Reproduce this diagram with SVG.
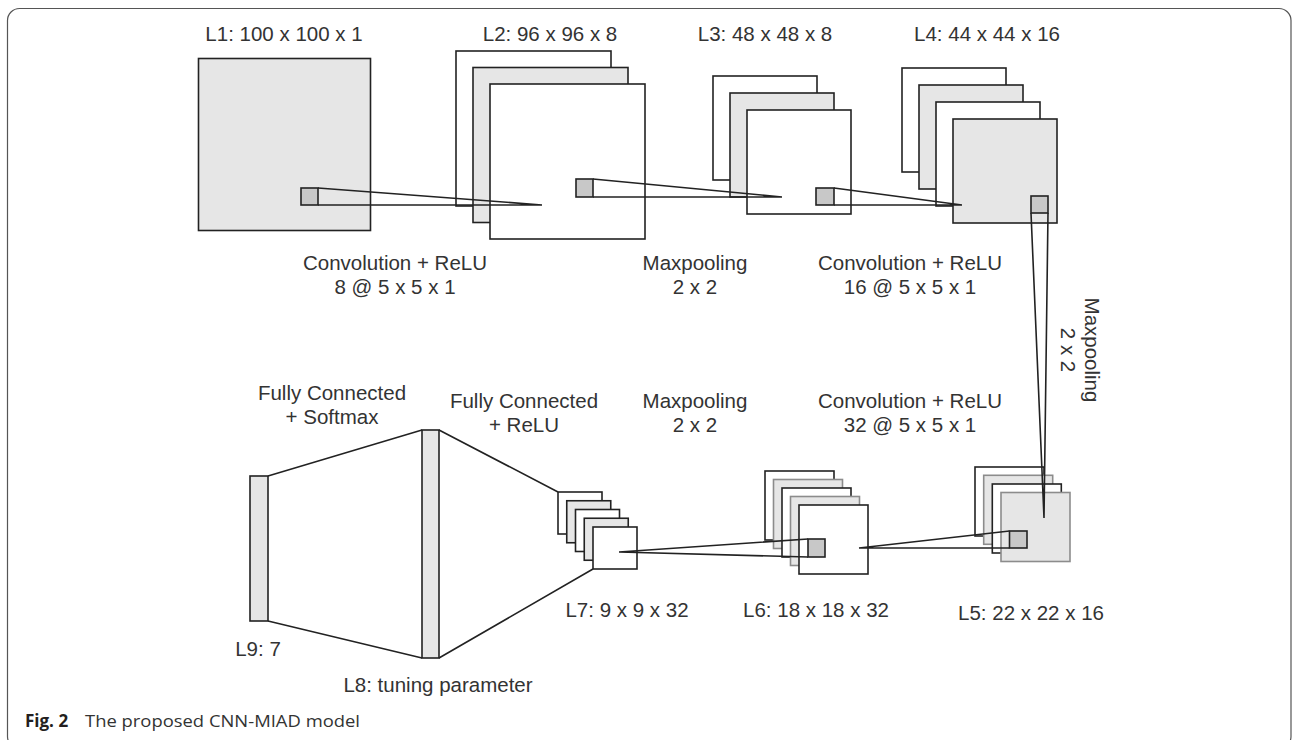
<svg xmlns="http://www.w3.org/2000/svg" width="1293" height="740" viewBox="0 0 1293 740">
<style>
.w{fill:#ffffff;stroke:#222;stroke-width:1.6}
.g{fill:#e6e6e6;stroke:#222;stroke-width:1.6}
.gl{fill:#e6e6e6;stroke:#8c8c8c;stroke-width:1.6}
.s{fill:#c8c8c8;stroke:#222;stroke-width:1.6}
.t{font-family:"Liberation Sans",Arial,sans-serif;font-size:20.5px;fill:#333;text-anchor:middle}
.c{fill:none;stroke:#222;stroke-width:1.6}
</style>
<rect x="7.5" y="8.5" width="1283.5" height="740" rx="12" ry="12" fill="none" stroke="#555" stroke-width="1.2"/>

<g id="L1">
<rect class="g" x="198.5" y="58.5" width="172" height="172"/>
<rect class="s" x="301" y="188" width="17" height="17"/>
<text class="t" x="284" y="41">L1: 100 x 100 x 1</text>
</g>
<g id="L2">
<rect class="w" x="456" y="51" width="155" height="155"/>
<rect class="g" x="473" y="67.5" width="155" height="155"/>
<rect class="w" x="490" y="84" width="155" height="155"/>
<rect class="s" x="576" y="179" width="17" height="18"/>
<text class="t" x="550" y="41">L2: 96 x 96 x 8</text>
</g>
<g id="L3">
<rect class="w" x="713" y="76" width="104" height="104"/>
<rect class="g" x="730" y="93" width="104" height="104"/>
<rect class="w" x="747" y="110" width="104" height="104"/>
<rect class="s" x="816" y="188" width="18" height="17"/>
<text class="t" x="765" y="41">L3: 48 x 48 x 8</text>
</g>
<g id="L4">
<rect class="w" x="902" y="68" width="104" height="104"/>
<rect class="g" x="919" y="85" width="104" height="104"/>
<rect class="w" x="936" y="102" width="104" height="104"/>
<rect class="g" x="953" y="119" width="104" height="104"/>
<rect class="s" x="1031" y="196" width="17" height="17"/>
<text class="t" x="987" y="41">L4: 44 x 44 x 16</text>
</g>
<g id="L5">
<rect class="w" x="975" y="467" width="69" height="69"/>
<rect class="gl" x="983.7" y="475.3" width="69" height="69"/>
<rect class="w" x="992.3" y="484" width="69" height="69"/>
<rect class="gl" x="1001" y="492.5" width="69" height="69"/>
<rect class="s" x="1009.5" y="531" width="17.5" height="17"/>
<text class="t" x="1031" y="620">L5: 22 x 22 x 16</text>
</g>
<g id="L6">
<rect class="w" x="765" y="471" width="69" height="69"/>
<rect class="gl" x="773.5" y="479.5" width="69" height="69"/>
<rect class="w" x="782" y="488" width="69" height="69"/>
<rect class="gl" x="790.5" y="496.5" width="69" height="69"/>
<rect class="w" x="799" y="505" width="69" height="69"/>
<rect class="s" x="808" y="539" width="17" height="18"/>
<text class="t" x="816" y="617">L6: 18 x 18 x 32</text>
</g>
<g id="L7">
<rect class="w" x="558" y="492" width="44" height="42"/>
<rect class="g" x="566.75" y="500.75" width="44" height="42"/>
<rect class="w" x="575.5" y="509.5" width="44" height="42"/>
<rect class="g" x="584.25" y="518.25" width="44" height="42"/>
<rect class="w" x="593" y="527" width="44" height="42"/>
<text class="t" x="627" y="617">L7: 9 x 9 x 32</text>
</g>
<g id="L8">
<rect class="g" x="422" y="430" width="17" height="228"/>
<text class="t" x="438" y="692">L8: tuning parameter</text>
</g>
<g id="L9">
<rect class="g" x="250" y="476" width="18" height="145"/>
<text class="t" x="258" y="656">L9: 7</text>
</g>

<g id="connectors">
<path class="c" d="M318,188 L542,205 M318,205 L542,205"/>
<path class="c" d="M593,179 L782,197 M593,197 L782,197"/>
<path class="c" d="M834,188 L962,205 M834,205 L962,205"/>
<path class="c" d="M1031,213 L1044,518 M1048,213 L1044,518"/>
<path class="c" d="M1009.5,531 L859,548 M1009.5,548 L859,548"/>
<path class="c" d="M808,539 L619,552 M808,557 L619,552"/>
<path class="c" d="M558,492 L439,430 M593,569 L439,658"/>
<path class="c" d="M422,430 L268,476 M422,658 L268,621"/>
</g>

<g id="labels">
<text class="t" x="395" y="270">Convolution + ReLU</text>
<text class="t" x="395" y="294">8 @ 5 x 5 x 1</text>
<text class="t" x="695" y="270">Maxpooling</text>
<text class="t" x="695" y="294">2 x 2</text>
<text class="t" x="910" y="270">Convolution + ReLU</text>
<text class="t" x="910" y="294">16 @ 5 x 5 x 1</text>
<text class="t" transform="translate(1085,350) rotate(90)">Maxpooling</text>
<text class="t" transform="translate(1061,350) rotate(90)">2 x 2</text>
<text class="t" x="332" y="400">Fully Connected</text>
<text class="t" x="332" y="424">+ Softmax</text>
<text class="t" x="524" y="408">Fully Connected</text>
<text class="t" x="524" y="432">+ ReLU</text>
<text class="t" x="695" y="408">Maxpooling</text>
<text class="t" x="695" y="432">2 x 2</text>
<text class="t" x="910" y="408">Convolution + ReLU</text>
<text class="t" x="910" y="432">32 @ 5 x 5 x 1</text>
</g>

<g id="caption" font-family="'Open Sans','Noto Sans',sans-serif" font-size="17">
<text x="25" y="727" font-weight="bold" fill="#231f20">Fig. 2</text>
<text x="85" y="727" fill="#333" textLength="275" lengthAdjust="spacingAndGlyphs">The proposed CNN-MIAD model</text>
</g>
</svg>
